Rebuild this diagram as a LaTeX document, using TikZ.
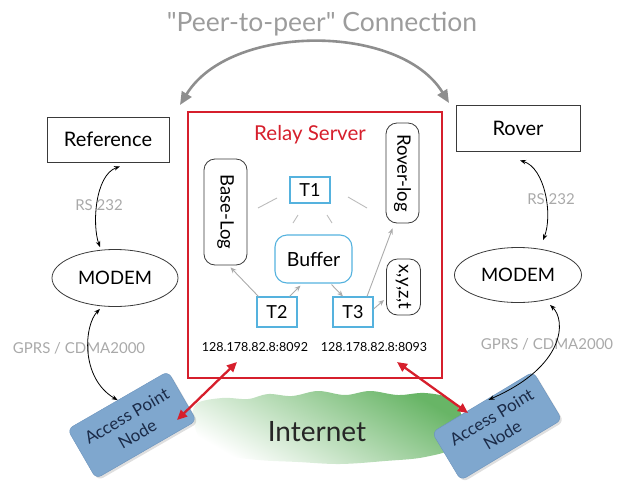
\documentclass[tikz,border=0pt]{standalone}
\usepackage{fontspec}
\setmainfont{Lato}
\newfontfamily\plainlato{Lato}
\usetikzlibrary{arrows.meta,shapes.geometric,shadows,calc}
\definecolor{relayred}{HTML}{D61F2C}
\definecolor{cyanb}{HTML}{55B2DE}
\definecolor{apblue}{HTML}{7FA7CE}
\definecolor{apedge}{HTML}{6A92BC}
\definecolor{aptext}{HTML}{1B2B48}
\definecolor{arcgray}{HTML}{8E8E8E}
\definecolor{titlegray}{HTML}{9C9C9C}
\definecolor{lblgray}{HTML}{A9A9A9}
\definecolor{inngray}{HTML}{ABABAB}
\definecolor{netgreen}{HTML}{68B566}
\definecolor{boxline}{HTML}{3A3A3A}
\begin{document}
\begin{tikzpicture}[x=1pt,y=-1pt,
  plainbox/.style={draw=boxline, line width=0.8pt, inner sep=0pt, font=\fontsize{20}{21}\selectfont},
  modem/.style={ellipse, draw=boxline, line width=0.8pt, inner sep=0pt, font=\fontsize{18.5}{20}\selectfont},
  apnode/.style={rounded corners=6pt, fill=apblue, draw=apedge, line width=0.4pt, inner sep=0pt,
     align=center, text=aptext, font=\fontsize{17}{21}\selectfont,
     drop shadow={opacity=0.25, shadow xshift=2pt, shadow yshift=-2pt}},
  logbox/.style={draw=boxline, line width=0.8pt, rounded corners=11pt, inner sep=0pt, font=\fontsize{18.5}{19}\selectfont},
  tbox/.style={draw=cyanb, line width=1.1pt, inner sep=0pt, font=\fontsize{18}{19}\selectfont},
  lbl/.style={text=lblgray, font=\fontsize{15}{16}\selectfont, inner sep=0pt},
  iplbl/.style={font=\fontsize{12.5}{14}\selectfont, inner sep=0pt},
  link/.style={<->, >={Stealth[length=6pt,width=4.5pt]}, line width=0.8pt, black},
  garrow/.style={->, >={Stealth[length=6pt,width=5pt]}, line width=0.9pt, inngray},
  faint/.style={line width=0.9pt, inngray!80},
  redarrow/.style={<->, >={Triangle[length=10pt,width=9pt]}, line width=2.3pt, relayred},
  arcarrow/.style={<->, >={Triangle[length=13pt,width=11pt]}, line width=2.6pt, arcgray}
]
\useasboundingbox (0,0) rectangle (621,488);

% Internet cloud
\shade[top color=netgreen, bottom color=white, shading angle=-30]
  plot[smooth cycle, tension=0.6] coordinates {(196,404) (222,398) (248,399) (268,394) (292,396) (318,391) (345,395) (370,391) (398,395) (425,393) (450,399) (462,418) (456,446) (425,457) (385,461) (340,464) (298,462) (258,460) (225,455) (202,442) (194,422)};
\node[font=\fontsize{28}{30}\selectfont, text=black!85, inner sep=0pt] (internet) at (317,432) {Internet};

% Title and peer-to-peer arc
\node[text=titlegray, font=\plainlato\fontsize{26.5}{28}\selectfont, inner sep=0pt] (title) at (322,24) {"Peer-to-peer" Connection};
\coordinate (arcL) at (180,105);
\coordinate (arcR) at (449,103);
\draw[arcarrow] (arcL) .. controls (230,23) and (400,23) .. (arcR);

% Relay server
\node[draw=relayred, line width=2.8pt, minimum width=254, minimum height=266, inner sep=0pt] (relay) at (315,245) {};
\node[text=relayred, font=\fontsize{20.5}{22}\selectfont, inner sep=0pt] (relaytitle) at (310,135) {Relay Server};

\node[logbox, minimum width=43, minimum height=106] (baselog) at (225.5,212) {\rotatebox{-90}{Base-Log}};
\node[logbox, minimum width=33, minimum height=100] (roverlog) at (402.5,173) {\rotatebox{-90}{Rover-log}};
\node[logbox, minimum width=34, minimum height=56] (xyzt) at (403.5,287) {\rotatebox{-90}{x,y,z,t}};
\node[tbox, minimum width=40, minimum height=26] (t1) at (310,190) {T1};
\node[tbox, rounded corners=12pt, minimum width=77, minimum height=48, font=\fontsize{19.5}{20}\selectfont] (buffer) at (313.5,259) {Buffer};
\node[tbox, minimum width=40, minimum height=30] (t2) at (277,312) {T2};
\node[tbox, minimum width=40, minimum height=30] (t3) at (353,312) {T3};
\node[iplbl] (ip1) at (255,347) {128.178.82.8:8092};
\node[iplbl] (ip2) at (374,347) {128.178.82.8:8093};

% faint lines around T1
\draw[faint] (258,208) -- (277,198);
\draw[faint] (293,223) -- (298,215);
\draw[faint] (327,215) -- (332,223);
\draw[faint] (348,197) -- (367,208);

% inner arrows
\draw[garrow] ([xshift=2pt]t2.north west) -- ([xshift=5pt,yshift=-2pt]baselog.south);
\draw[garrow] ([xshift=-8pt]t2.north east) -- ([xshift=-13pt,yshift=-2pt]buffer.south);
\draw[garrow] ([xshift=18pt,yshift=-1pt]buffer.south) -- ([xshift=-10pt]t3.north);
\draw[garrow] ([xshift=14pt]t3.north) -- ([xshift=-10pt,yshift=-5pt]roverlog.south);
\draw[garrow] ([yshift=3pt]t3.east) -- ([xshift=-2pt,yshift=-13pt]xyzt.west);

% left side
\node[plainbox, minimum width=122, minimum height=45] (ref) at (108,139.5) {Reference};
\node[modem, minimum width=126, minimum height=57] (modemL) at (115,278) {MODEM};
\node[apnode, rotate=30, minimum width=116, minimum height=57] (apL) at (132,425) {Access Point\\Node};
\node[lbl] (rsL) at (99,205) {RS 232};
\node[lbl] (gprsL) at (79,348) {GPRS / CDMA2000};
\draw[link] ([xshift=12pt,yshift=-4pt]ref.south) .. controls (95,175) and (92,225) .. ([xshift=-15pt,yshift=2pt]modemL.north);
\draw[link] ([xshift=-15pt,yshift=-2pt]modemL.south) .. controls (84,325) and (80,378) .. (apL.north);

% right side
\node[plainbox, minimum width=124, minimum height=46] (rover) at (518,128) {Rover};
\node[modem, minimum width=127, minimum height=55] (modemR) at (518,275) {MODEM};
\node[apnode, rotate=31, minimum width=118, minimum height=56] (apR) at (497,426) {Access Point\\Node};
\node[lbl] (rsR) at (551,199) {RS 232};
\node[lbl] (gprsR) at (547,344) {GPRS / CDMA2000};
\draw[link] ([xshift=2pt,yshift=-9pt]rover.south) .. controls (545,168) and (553,215) .. ([xshift=25pt,yshift=7pt]modemR.north);
\draw[link] ([xshift=32pt,yshift=-2pt]modemR.south) .. controls (566,320) and (566,366) .. ([xshift=6pt,yshift=2pt]apR.north);

% red arrows
\coordinate (rL1) at (237,362);
\coordinate (rL2) at (177,420);
\coordinate (rR1) at (397,362);
\coordinate (rR2) at (468,413);
\draw[redarrow] (rL1) -- (rL2);
\draw[redarrow] (rR1) -- (rR2);
\end{tikzpicture}
\end{document}
